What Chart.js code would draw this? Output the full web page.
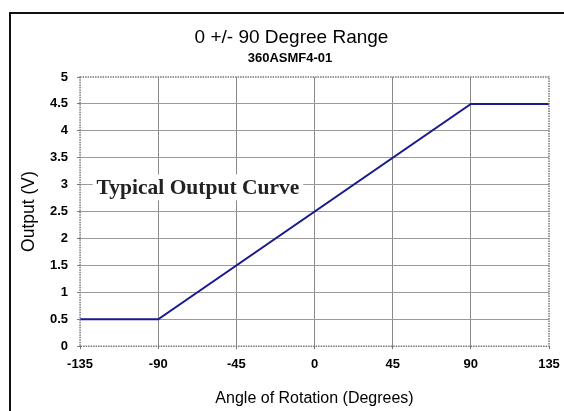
<!DOCTYPE html>
<html>
<head>
<meta charset="utf-8">
<script src="https://cdn.jsdelivr.net/npm/chart.js@4.4.1/dist/chart.umd.min.js"></script>
<style>
html,body{margin:0;padding:0;background:#fff;}
#wrap{width:564px;height:411px;position:relative;}
</style>
</head>
<body>
<div id="wrap"><canvas id="c" width="564" height="411"></canvas></div>
<script>
const angles = [-135, -90, 90, 135];
const outputs = [0.5, 0.5, 4.5, 4.5];
const xTicks = [-135, -90, -45, 0, 45, 90, 135];
const yTicks = [0, 0.5, 1, 1.5, 2, 2.5, 3, 3.5, 4, 4.5, 5];
const titleText = '0 +/- 90 Degree Range';
const subtitleText = '360ASMF4-01';
const xTitle = 'Angle of Rotation (Degrees)';
const yTitle = 'Output (V)';
const noteText = 'Typical Output Curve';
const noteAt = {x: -125.5, y: 2.95};

const framePlugin = {
  id: 'frame',
  beforeDraw(chart) {
    const ctx = chart.ctx;
    ctx.save();
    ctx.fillStyle = '#fff';
    ctx.fillRect(0, 0, chart.width, chart.height);
    ctx.strokeStyle = '#111';
    ctx.lineWidth = 2;
    ctx.strokeRect(10, 13, chart.width + 20, chart.height + 20);
    // titles
    ctx.fillStyle = '#000';
    ctx.textAlign = 'center';
    ctx.textBaseline = 'middle';
    ctx.font = '19px "Liberation Sans", Arial, sans-serif';
    ctx.fillText(titleText, 291.5, 38);
    ctx.font = 'bold 13px "Liberation Sans", Arial, sans-serif';
    ctx.fillText(subtitleText, 290, 58);
    ctx.restore();
  },
  afterDatasetsDraw(chart) {
    const ctx = chart.ctx;
    const a = chart.chartArea;
    ctx.save();
    ctx.strokeStyle = '#777';
    ctx.lineWidth = 1.5;
    ctx.setLineDash([1.5, 1]);
    ctx.strokeRect(a.left, a.top, a.right - a.left, a.bottom - a.top);
    ctx.setLineDash([]);
    // note label
    const xs = chart.scales.x, ys = chart.scales.y;
    const px = xs.getPixelForValue(noteAt.x), py = ys.getPixelForValue(noteAt.y);
    ctx.font = 'bold 21.5px "Liberation Serif", "Times New Roman", serif';
    const w = ctx.measureText(noteText).width;
    ctx.fillStyle = '#fff';
    ctx.fillRect(px - 4, py - 13, w + 8, 26);
    ctx.fillStyle = '#222';
    ctx.textBaseline = 'middle';
    ctx.textAlign = 'left';
    ctx.fillText(noteText, px, py + 1);
    ctx.restore();
  }
};

new Chart(document.getElementById('c'), {
  type: 'line',
  data: {
    datasets: [{
      data: angles.map((a, i) => ({x: a, y: outputs[i]})),
      borderColor: '#1a1a8f',
      borderWidth: 2,
      pointRadius: 0,
      tension: 0,
      fill: false
    }]
  },
  options: {
    responsive: false,
    animation: false,
    devicePixelRatio: 1,
    layout: {padding: {left: 19, right: 15, top: 77, bottom: 3}},
    plugins: {
      legend: {display: false},
      tooltip: {enabled: false},
      title: {display: false},
      subtitle: {display: false}
    },
    scales: {
      x: {
        type: 'linear', min: -135, max: 135,
        afterBuildTicks: s => { s.ticks = xTicks.map(v => ({value: v})); },
        afterFit: s => { s.paddingLeft = 0; s.paddingRight = 0; },
        grid: {color: c => (c.tick && (c.tick.value === -135 || c.tick.value === 135)) ? 'rgba(0,0,0,0)' : '#8a8a8a',
               lineWidth: 1, tickLength: 3, tickColor: '#777'},
        border: {display: false},
        ticks: {color: '#000', font: {family: 'Liberation Sans, Arial, sans-serif', size: 13, weight: 'bold'}, padding: 7, maxRotation: 0,
                callback: v => String(v)},
        title: {display: true, text: xTitle, color: '#000',
          font: {family: 'Liberation Sans, Arial, sans-serif', size: 16}, padding: {top: 10, bottom: 0}}
      },
      y: {
        type: 'linear', min: 0, max: 5,
        afterBuildTicks: s => { s.ticks = yTicks.map(v => ({value: v})); },
        afterFit: s => { s.paddingTop = 0; s.paddingBottom = 0; },
        grid: {color: c => (c.tick && (c.tick.value === 0 || c.tick.value === 5)) ? 'rgba(0,0,0,0)' : '#9a9a9a',
               lineWidth: 1, tickLength: 3, tickColor: '#777'},
        border: {display: false},
        ticks: {color: '#000', font: {family: 'Liberation Sans, Arial, sans-serif', size: 13, weight: 'bold'}, padding: 9,
                callback: v => String(v)},
        title: {display: true, text: yTitle, color: '#000',
          font: {family: 'Liberation Sans, Arial, sans-serif', size: 17.5}, padding: {top: 0, bottom: 1}}
      }
    }
  },
  plugins: [framePlugin]
});
</script>
</body>
</html>
